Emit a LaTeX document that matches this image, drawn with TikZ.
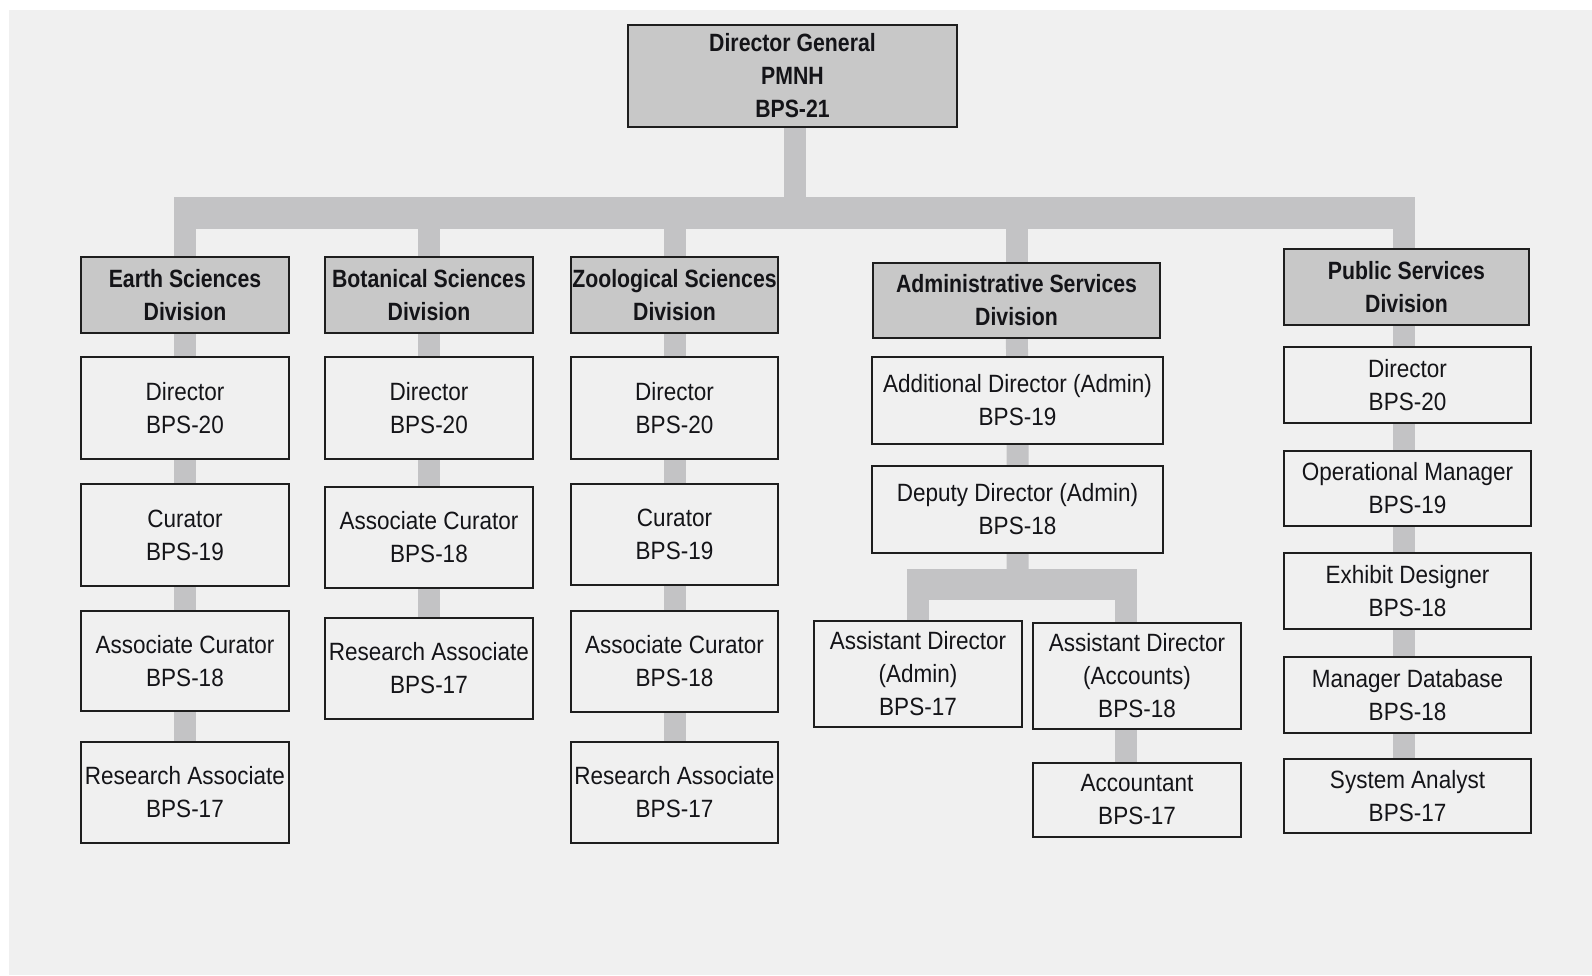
\documentclass[tikz,border=0pt]{standalone}
\usepackage{fontspec}
\newfontfamily\chartfont[FakeStretch=0.9]{Liberation Sans}
\newfontfamily\hdrfont[FakeStretch=0.85]{Liberation Sans}
\usetikzlibrary{calc,backgrounds}
\definecolor{bgc}{RGB}{240,240,240}
\definecolor{hdr}{RGB}{200,200,200}
\definecolor{lnk}{RGB}{195,195,197}
\definecolor{edge}{RGB}{30,30,30}
\definecolor{ink}{RGB}{20,20,24}
\begin{document}
\begin{tikzpicture}[x=1pt,y=-1pt,
  box/.style={draw=edge, line width=2.2pt, fill=bgc, inner sep=0pt, align=center,
    font=\chartfont\fontsize{25}{33}\selectfont, text=ink},
  hbox/.style={box, fill=hdr, font=\hdrfont\bfseries\fontsize{25}{33}\selectfont},
  conn/.style={draw=lnk, line width=22pt},
  hbar/.style={draw=lnk, line width=32pt}]
\useasboundingbox (0,0) rectangle (1592,975);

% top
\node[hbox, minimum width=329pt, minimum height=102pt] (dg) at (792.5,76) {Director General\\PMNH\\BPS-21};

% Earth Sciences
\node[hbox, minimum width=208pt, minimum height=76pt] (es) at (185,295) {Earth Sciences\\Division};
\node[box, minimum width=208pt, minimum height=102pt] (esd) at (185,408) {Director\\BPS-20};
\node[box, minimum width=208pt, minimum height=102pt] (esc) at (185,535) {Curator\\BPS-19};
\node[box, minimum width=208pt, minimum height=100pt] (esa) at (185,661) {Associate Curator\\BPS-18};
\node[box, minimum width=208pt, minimum height=101pt] (esr) at (185,792.5) {Research Associate\\BPS-17};

% Botanical Sciences
\node[hbox, minimum width=208pt, minimum height=76pt] (bs) at (429,295) {Botanical Sciences\\Division};
\node[box, minimum width=208pt, minimum height=102pt] (bsd) at (429,408) {Director\\BPS-20};
\node[box, minimum width=208pt, minimum height=101pt] (bsa) at (429,537.5) {Associate Curator\\BPS-18};
\node[box, minimum width=208pt, minimum height=101pt] (bsr) at (429,668.5) {Research Associate\\BPS-17};

% Zoological Sciences
\node[hbox, minimum width=207pt, minimum height=76pt] (zs) at (674.5,295) {Zoological Sciences\\Division};
\node[box, minimum width=207pt, minimum height=102pt] (zsd) at (674.5,408) {Director\\BPS-20};
\node[box, minimum width=207pt, minimum height=101pt] (zsc) at (674.5,534.5) {Curator\\BPS-19};
\node[box, minimum width=207pt, minimum height=101pt] (zsa) at (674.5,661.5) {Associate Curator\\BPS-18};
\node[box, minimum width=207pt, minimum height=101pt] (zsr) at (674.5,792.5) {Research Associate\\BPS-17};

% Administrative Services
\node[hbox, minimum width=287pt, minimum height=75pt] (as) at (1016.5,300.5) {Administrative Services\\Division};
\node[box, minimum width=291pt, minimum height=87pt] (as1) at (1017.5,400.5) {Additional Director (Admin)\\BPS-19};
\node[box, minimum width=291pt, minimum height=87pt] (as2) at (1017.5,509.5) {Deputy Director (Admin)\\BPS-18};
\node[box, minimum width=208pt, minimum height=106pt] (ada) at (918,674) {Assistant Director\\(Admin)\\BPS-17};
\node[box, minimum width=208pt, minimum height=106pt] (adc) at (1137,676) {Assistant Director\\(Accounts)\\BPS-18};
\node[box, minimum width=208pt, minimum height=74pt] (acc) at (1137,800) {Accountant\\BPS-17};

% Public Services
\node[hbox, minimum width=245pt, minimum height=76pt] (ps) at (1406.5,287) {Public Services\\Division};
\node[box, minimum width=247pt, minimum height=76pt] (psd) at (1407.5,385) {Director\\BPS-20};
\node[box, minimum width=247pt, minimum height=75pt] (pso) at (1407.5,488.5) {Operational Manager\\BPS-19};
\node[box, minimum width=247pt, minimum height=76pt] (pse) at (1407.5,591) {Exhibit Designer\\BPS-18};
\node[box, minimum width=247pt, minimum height=76pt] (psm) at (1407.5,695) {Manager Database\\BPS-18};
\node[box, minimum width=247pt, minimum height=74pt] (pss) at (1407.5,796) {System Analyst\\BPS-17};

\coordinate (trunk) at (0,213);
\coordinate (sub) at (0,584.5);

\begin{scope}[on background layer]
  \fill[white] (0,0) rectangle (1592,975);
  \fill[bgc] (9,10) rectangle (1592,975);
  % main tree
  \draw[conn] ($(dg)+(2.5,0)$) -- ($(dg |- trunk)+(2.5,0)$);
  \draw[hbar] ($(es |- trunk)+(-11,0)$) -- ($(ps |- trunk)+(8,0)$);
  \draw[conn] (es |- trunk) -- (es);
  \draw[conn] (bs |- trunk) -- (bs);
  \draw[conn] (zs |- trunk) -- (zs);
  \draw[conn] (as |- trunk) -- (as);
  \draw[conn] ($(ps |- trunk)+(-3,0)$) -- ($(ps)+(-3,0)$);
  % columns
  \draw[conn] (es) -- (esd) -- (esc) -- (esa) -- (esr);
  \draw[conn] (bs) -- (bsd) -- (bsa) -- (bsr);
  \draw[conn] (zs) -- (zsd) -- (zsc) -- (zsa) -- (zsr);
  \draw[conn] (as) -- (as1) -- (as2) -- (as2 |- sub);
  \draw[conn] ($(ps)+(-3,0)$) -- ($(pss)+(-4,0)$);
  % admin sub-branch
  \draw[hbar, line width=31pt] ($(ada |- sub)+(-11,0)$) -- (adc |- sub);
  \draw[conn] (ada |- sub) -- (ada);
  \draw[conn] ($(adc |- sub)+(-11,0)$) -- ($(acc)+(-11,0)$);
\end{scope}
\end{tikzpicture}
\end{document}
